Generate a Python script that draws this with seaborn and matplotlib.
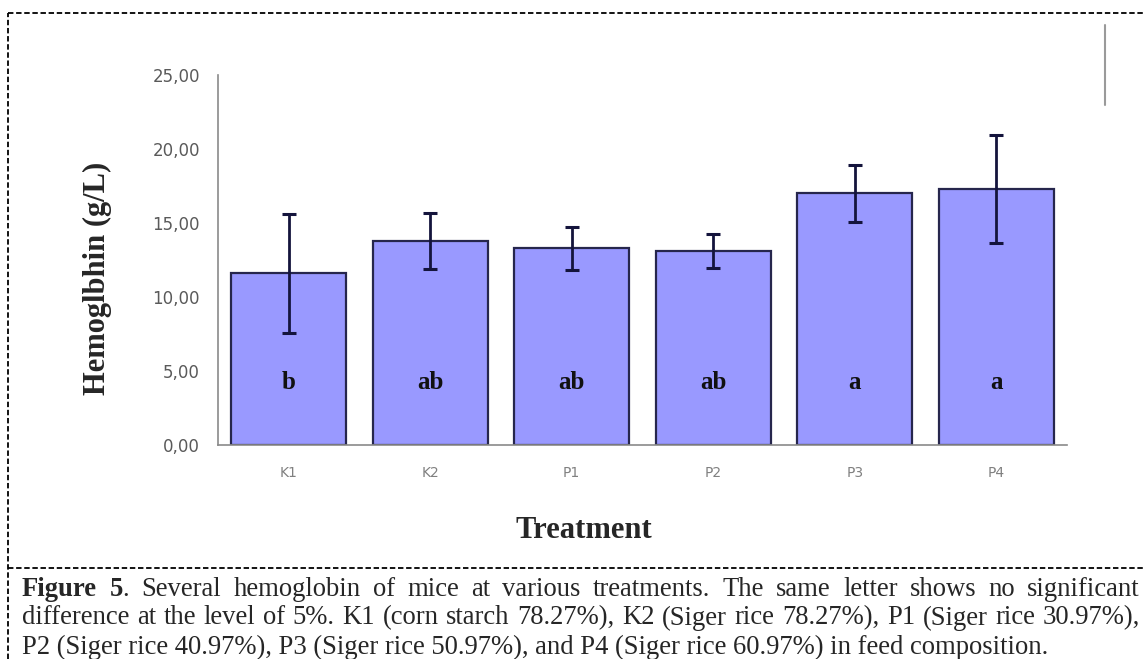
import matplotlib
matplotlib.use("Agg")
import matplotlib.pyplot as plt
import seaborn as sns
import pandas as pd
from matplotlib.lines import Line2D

# data
treatments = ["K1", "K2", "P1", "P2", "P3", "P4"]
hemoglobin = [11.6, 13.8, 13.3, 13.1, 17.0, 17.3]
hb_err = [4.0, 1.9, 1.45, 1.15, 1.95, 3.65]
letters = ["b", "ab", "ab", "ab", "a", "a"]
y_ticks = [0, 5, 10, 15, 20, 25]
y_tick_labels = ["0,00", "5,00", "10,00", "15,00", "20,00", "25,00"]

caption_1 = [[("Figure", "bold")], [("5", "bold"), (".", "normal")]] + \
    [[(w, "normal")] for w in "Several hemoglobin of mice at various treatments. The same letter shows no significant".split()]
caption_2 = [[(w, "normal")] for w in
             "difference at the level of 5%. K1 (corn starch 78.27%), K2 (Siger rice 78.27%), P1 (Siger rice 30.97%),".split()]
caption_3 = "P2 (Siger rice 40.97%), P3 (Siger rice 50.97%), and P4 (Siger rice 60.97%) in feed composition."

df = pd.DataFrame({"Treatment": treatments, "Hb": hemoglobin})

sns.set_style("white")
W, H = 1144, 659
fig = plt.figure(figsize=(W / 100, H / 100), dpi=100)
ax = fig.add_axes([218 / W, 1 - 445 / H, (1067 - 218) / W, (445 - 75) / H])

sns.barplot(data=df, x="Treatment", y="Hb", color="#9999FF", saturation=1,
            edgecolor="#26264d", linewidth=1.6, width=0.81, errorbar=None, ax=ax)
ax.errorbar(range(len(treatments)), hemoglobin, yerr=hb_err, fmt="none",
            ecolor="#14143c", elinewidth=2, capsize=5, capthick=2.2)

serif = ["Liberation Serif", "DejaVu Serif"]
for i, lab in enumerate(letters):
    ax.text(i, 4.25, lab, ha="center", va="center", fontsize=18,
            fontweight="bold", family=serif, color="#111111")

ax.set_xlim(-0.5, 5.5)
ax.set_ylim(0, 25)
ax.set_yticks(y_ticks)
ax.set_yticklabels(y_tick_labels, fontsize=12, color="#5a5a5a")
ax.set_xticks(range(len(treatments)))
ax.set_xticklabels(treatments, fontsize=10, color="#808080")
ax.set_xticks([i + 0.5 for i in range(-1, 6)], minor=True)
ax.tick_params(axis="x", which="major", length=0, pad=15)
ax.tick_params(axis="x", which="minor", length=4, direction="out", color="#888888")
ax.tick_params(axis="y", length=5, direction="out", color="#888888", pad=8)
ax.set_xlabel("")
ax.set_ylabel("")
for s in ["top", "right"]:
    ax.spines[s].set_visible(False)
for s in ["left", "bottom"]:
    ax.spines[s].set_color("#8a8a8a")
    ax.spines[s].set_linewidth(1.2)

fig.text(584 / W, 1 - 530 / H, "Treatment", ha="center", va="center",
         fontsize=22, fontweight="bold", family=serif)
fig.text(97 / W, 1 - 278 / H, "Hemoglbhin (g/L)", ha="center", va="center",
         rotation=90, fontsize=22, fontweight="bold", family=serif)

# dashed frame around figure and caption
dash = dict(color="black", linewidth=1.3, linestyle=(0, (3, 1.5)))
fig.add_artist(Line2D([8 / W, 1], [1 - 13 / H, 1 - 13 / H], **dash))
fig.add_artist(Line2D([8 / W, 8 / W], [0, 1 - 13 / H], **dash))
fig.add_artist(Line2D([8 / W, 1], [1 - 568 / H, 1 - 568 / H], **dash))
fig.add_artist(Line2D([1105 / W, 1105 / W], [1 - 25 / H, 1 - 105 / H],
                      color="#9a9a9a", linewidth=1.5))

# caption, first two lines justified
cap_fs = 19.2
fig.canvas.draw()
rend = fig.canvas.get_renderer()


def justified(words, y, x0, x1):
    pieces = []
    widths = []
    for word in words:
        parts = []
        w = 0
        for txt, wt in word:
            t = fig.text(0, 1 - y / H, txt, fontsize=cap_fs, fontweight=wt,
                         family=serif, va="center", ha="left")
            tw = t.get_window_extent(rend).width
            parts.append((t, w))
            w += tw
        pieces.append(parts)
        widths.append(w)
    gap = (x1 - x0 - sum(widths)) / (len(words) - 1)
    x = x0
    for parts, w in zip(pieces, widths):
        for t, off in parts:
            t.set_x((x + off) / W)
        x += w + gap


justified(caption_1, 589, 22, 1140)
justified(caption_2, 618, 22, 1140)
fig.text(22 / W, 1 - 647 / H, caption_3, fontsize=cap_fs, family=serif,
         va="center", ha="left")

fig.savefig("out.png", dpi=100)
